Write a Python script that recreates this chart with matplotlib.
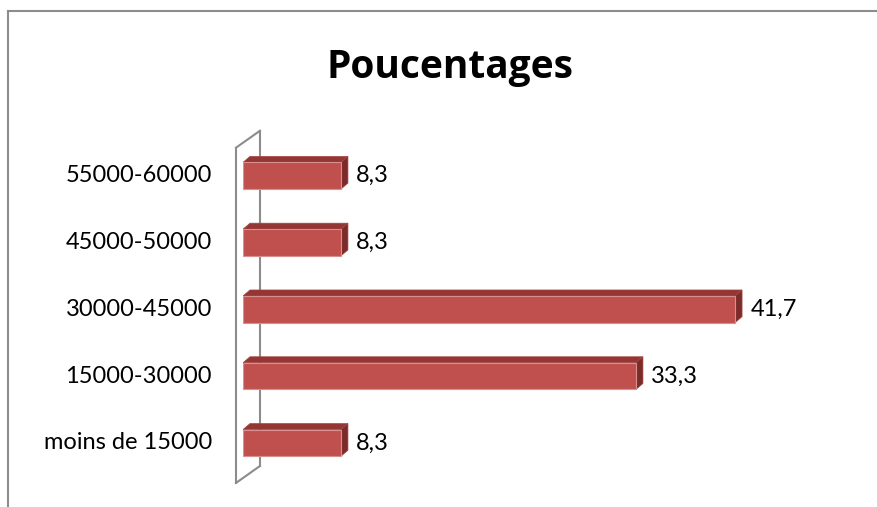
import matplotlib.pyplot as plt
from matplotlib.patches import Polygon
from matplotlib.lines import Line2D

categories = ['moins de 15000', '15000-30000', '30000-45000', '45000-50000', '55000-60000']
values = [8.3, 33.3, 41.7, 8.3, 8.3]
labels = ['8,3', '33,3', '41,7', '8,3', '8,3']

front = '#C0504D'
top = '#943634'
side = '#7B2C2A'
wall = '#8C8C8C'

plt.rcParams['font.family'] = ['Lato', 'DejaVu Sans']

fig = plt.figure(figsize=(8.78, 5.07), dpi=100)
W, H = 878, 507
# axes placed so that value 0 lands at the front-left of the bars
ax = fig.add_axes([243 / W, 24 / H, 600 / W, 352 / H])
ax.set_xlim(0, 600 / 11.8)
ax.set_ylim(-0.6, 4.67)
ax.axis('off')

dx = 7 / 11.8   # depth offset, data units
dy = 6 / 66.75
bh = 0.40

# wall (left side panel with depth)
wx0, wx1 = -0.593, 1.44
wy = [(-0.599, 4.42), (-0.345, 4.674)]
ax.add_line(Line2D([wx0, wx0], wy[0], color=wall, lw=1.5, zorder=1, clip_on=False))
ax.add_line(Line2D([wx1, wx1], wy[1], color=wall, lw=1.5, zorder=1, clip_on=False))
ax.add_line(Line2D([wx0, wx1], [wy[0][1], wy[1][1]], color=wall, lw=1.5, zorder=1, clip_on=False))
ax.add_line(Line2D([wx0, wx1], [wy[0][0], wy[1][0]], color=wall, lw=1.5, zorder=1, clip_on=False))

for i, v in enumerate(values):
    y0, y1 = i - bh / 2, i + bh / 2
    ax.barh(i, v, height=bh, color=front, edgecolor='#D8908E', lw=0.8, zorder=3)
    ax.add_patch(Polygon([(0, y1), (v, y1), (v + dx, y1 + dy), (dx, y1 + dy)],
                         closed=True, fc=top, ec='#A34543', lw=0.5, zorder=2))
    ax.add_patch(Polygon([(v, y0), (v, y1), (v + dx, y1 + dy), (v + dx, y0 + dy)],
                         closed=True, fc=side, ec='#A34543', lw=0.5, zorder=2))
    ax.annotate(labels[i], (v, i), xytext=(11, 0), textcoords='offset points',
                va='center', ha='left', fontsize=17, color='black')
    ax.text(-31 / 11.8, i, categories[i], ha='right', va='center', fontsize=17)

fig.text(450 / W, 1 - 78 / H, 'Poucentages', ha='center', va='baseline',
         fontsize=28, fontweight='bold', family=['Open Sans', 'DejaVu Sans'])

# chart area border (left and top)
fig.add_artist(Line2D([8 / W, 8 / W], [0, 1 - 11 / H], color=wall, lw=1.5))
fig.add_artist(Line2D([8 / W, 1], [1 - 11 / H, 1 - 11 / H], color=wall, lw=1.5))

fig.savefig('out.png', dpi=100)
